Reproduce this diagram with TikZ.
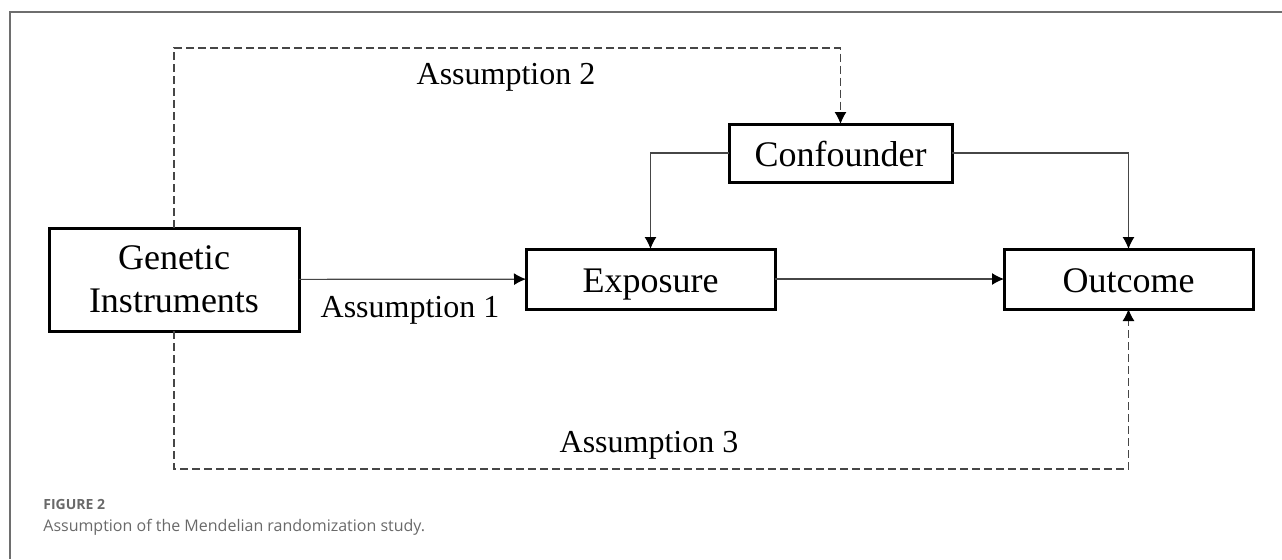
\documentclass[tikz,border=0pt]{standalone}
\usepackage{fontspec}
\setmainfont{Liberation Serif}
\setsansfont{Open Sans}
\usepackage{tikz}
\usetikzlibrary{positioning,arrows.meta,shapes}
\definecolor{lineGray}{RGB}{70,70,70}
\definecolor{frameGray}{RGB}{110,110,110}
\definecolor{capGray}{RGB}{105,105,105}
\tikzset {
    style Box/.style={
        draw=black,
        line width=1.5pt,
        rectangle, % Set the shape as a rectangle
        inner sep=0pt,
        outer sep=0pt,
        align=center,
        font=\fontsize{18}{21.5}\selectfont,
    },
    style Single/.style={
        style Box,
        text height=13.5pt,
        text depth=0.5pt,
        minimum width=124.5pt,
        minimum height=30pt,
    },
    style Label/.style={
        inner sep=0pt,
        font=\fontsize{16}{18}\selectfont,
    },
    style Link/.style={
        draw=lineGray,
        line width=0.6pt,
        -{Latex[length=6pt,width=6pt,color=black]},
    },
    style Dash/.style={
        style Link,
        dash pattern=on 4pt off 2pt,
    },
}
\begin{document}
\begin{tikzpicture}[x=0.5pt,y=-0.5pt]
        \useasboundingbox (0,0) rectangle (1282,559);

        % frame
        \draw[frameGray, line width=0.6pt] (10,559) -- (10,12) -- (1282,12);

        \node[style Box, minimum width=125pt, minimum height=51.5pt] at (174,279.5) (genetic) {Genetic\\Instruments};
        \node[style Single] at (650.5,279) (exposure) {Exposure};
        \node[style Single] at (1128.5,279) (outcome) {Outcome};
        \node[style Single, minimum width=111.5pt, minimum height=29pt] at (840.5,153) (confounder) {Confounder};

        \coordinate (topbend) at (174,48);
        \coordinate (bottombend) at (174,469);

        \draw[style Link] (genetic) -- (exposure);
        \draw[style Link] (exposure) -- (outcome);
        \draw[style Link] (confounder.west) -| (exposure.north);
        \draw[style Link] (confounder.east) -| (outcome.north);

        \draw[style Dash] (genetic.north) -- (topbend) -| (confounder.north);
        \draw[style Dash] (genetic.south) -- (bottombend) -| (outcome.south);

        \node[style Label] at (410,310) (assume1) {Assumption 1};
        \node[style Label] at (506,77) (assume2) {Assumption 2};
        \node[style Label] at (649,445) (assume3) {Assumption 3};

        % caption
        \node[anchor=base west, inner sep=0pt, text=capGray, font=\sffamily\bfseries\fontsize{7}{8}\selectfont] at (43,509) (figno) {FIGURE 2};
        \node[anchor=base west, inner sep=0pt, text=capGray, font=\sffamily\fontsize{8}{9.5}\selectfont] at (43,531) (caption) {Assumption of the Mendelian randomization study.};
    \end{tikzpicture}
\end{document}
